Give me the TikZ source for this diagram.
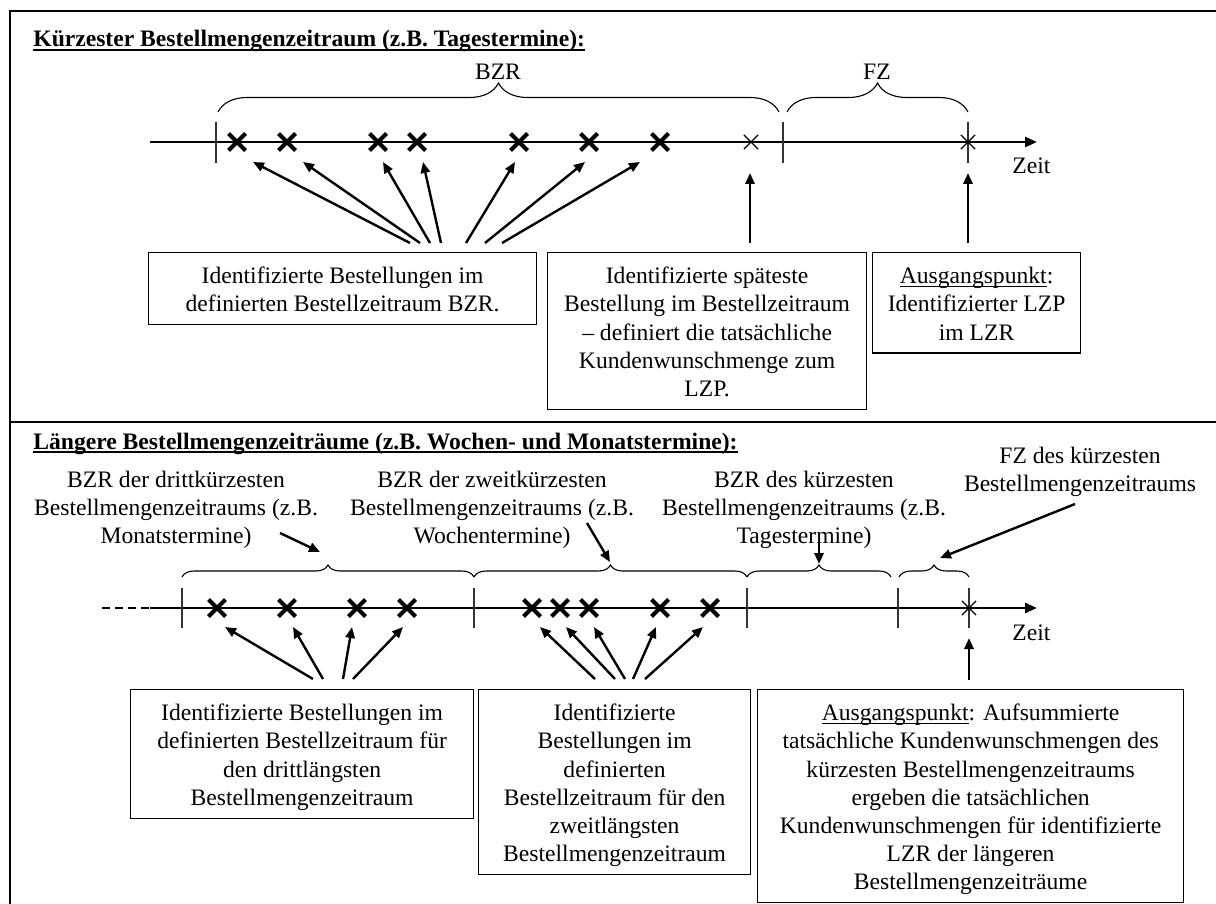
\documentclass[tikz,border=0pt]{standalone}
\usepackage{fontspec}
\setmainfont{Liberation Serif}
\usetikzlibrary{arrows.meta,shapes.misc,decorations.pathreplacing}

% struts fixing the first baseline and the last depth inside the boxes
\newcommand{\boxtop}{\rule{0pt}{13pt}}
\newcommand{\boxbot}{\rule[-4pt]{0pt}{4pt}}
\newcommand{\lbltop}{\rule{0pt}{11pt}}
\newsavebox{\ulsave}
\newcommand{\ulined}[2][0.5pt]{\sbox{\ulsave}{#2}\rlap{\rule[-1.8pt]{\wd\ulsave}{#1}}\usebox{\ulsave}}

\begin{document}
\begin{tikzpicture}[x=0.5pt,y=-0.5pt,
  every node/.style={font=\fontsize{11.8pt}{14.1pt}\selectfont, inner sep=0pt},
  frameline/.style={line width=0.8pt},
  timearrow/.style={line width=1.3pt,-{Triangle[length=6pt,width=5pt]}},
  tickmark/.style={line width=0.55pt, black!80},
  boldx/.style={cross out, draw, line width=2pt, minimum size=6.5pt},
  thinx/.style={cross out, draw, line width=0.6pt, minimum size=6.5pt},
  pointer/.style={line width=1.2pt,-{Triangle[length=5.5pt,width=4.6pt]}},
  infobox/.style={draw, line width=0.6pt, align=center, inner xsep=2pt, inner ysep=2.5pt, anchor=north west},
  caption/.style={align=center, anchor=north},
  bigbrace/.style={decorate, decoration={brace, amplitude=14.5pt}, line width=0.55pt},
  smallbrace/.style={decorate, decoration={brace, amplitude=6pt}, line width=0.55pt},
  heading/.style={anchor=base west, font=\fontsize{11.8pt}{14.1pt}\selectfont\bfseries},
]
\useasboundingbox (0,0) rectangle (1216,904);

% frame and separator
\draw[frameline] (10,904) -- (10,11) -- (1216,11);
\draw[frameline] (10,422) -- (1216,422);

% ---------------- shortest ordering period ----------------
\node[heading] (h1) at (33,47) {\ulined[0.9pt]{Kürzester Bestellmengenzeitraum (z.B. Tagestermine):}};

\coordinate (ax1s) at (150,142);
\coordinate (ax1e) at (1037,142);
\draw[timearrow] (ax1s) -- (ax1e);
\node[anchor=base west] (zeit1) at (1012,174) {Zeit};

\foreach \x in {216,783,968} \draw[tickmark] (\x,122) -- (\x,163);

\foreach \x [count=\i] in {237,287,378,417,519,589,660}
  \node[boldx] (ob\i) at (\x,142) {};
\node[thinx] (latest) at (751,142) {};
\node[thinx] (lzp) at (968,142) {};

\draw[bigbrace] (218,112) -- (779,112);
\node[anchor=base] (bzr) at (498,80) {BZR};
\draw[bigbrace] (787,112) -- (968,112);
\node[anchor=base] (fz) at (877,80) {FZ};

\node[infobox, minimum width=194pt] (box1) at (148,252)
  {\boxtop Identifizierte Bestellungen im\\definierten Bestellzeitraum BZR.\boxbot};
\node[infobox, minimum width=159.5pt] (box2) at (547,252)
  {\boxtop Identifizierte späteste\\Bestellung im Bestellzeitraum\\– definiert die tatsächliche\\Kundenwunschmenge zum\\LZP.\boxbot};
\node[infobox, minimum width=104pt] (box3) at (872,252)
  {\boxtop\ulined{Ausgangspunkt}:\\Identifizierter LZP\\im LZR\boxbot};

\foreach \sx/\tx [count=\i] in {410/253,420/303,430/383,441/423,466/515,485/585,502/640} {
  \coordinate (ts\i) at (\sx,243);
  \coordinate (tt\i) at (\tx,162);
  \draw[pointer] (ts\i) -- (tt\i);
}
\coordinate (ls) at (750,243);
\coordinate (lt) at (750,173);
\draw[pointer] (ls) -- (lt);
\coordinate (ps) at (968,243);
\coordinate (pt) at (968,173);
\draw[pointer] (ps) -- (pt);

% ---------------- longer ordering periods ----------------
\node[heading] (h2) at (33,449) {\ulined[0.9pt]{Längere Bestellmengenzeiträume (z.B. Wochen- und Monatstermine):}};

\node[caption] (lbl1) at (176,465) {\lbltop BZR der drittkürzesten\\Bestellmengenzeitraums (z.B.\\Monatstermine)};
\node[caption] (lbl2) at (492,465) {\lbltop BZR der zweitkürzesten\\Bestellmengenzeitraums (z.B.\\Wochentermine)};
\node[caption] (lbl3) at (804,465) {\lbltop BZR des kürzesten\\Bestellmengenzeitraums (z.B.\\Tagestermine)};
\node[caption] (lbl4) at (1080,441) {\lbltop FZ des kürzesten\\Bestellmengenzeitraums};

\coordinate (ax2d) at (102,608);
\coordinate (ax2s) at (150,608);
\coordinate (ax2e) at (1037,608);
\draw[line width=1.3pt, dash pattern=on 4pt off 2.5pt] (ax2d) -- (ax2s);
\draw[timearrow] (ax2s) -- (ax2e);
\node[anchor=base west] (zeit2) at (1012,640) {Zeit};

\foreach \x in {182,474,747,898,969} \draw[tickmark] (\x,588) -- (\x,628);

\foreach \x [count=\i] in {217,287,357,407,532,560,589,660,710}
  \node[boldx] (lb\i) at (\x,608) {};
\node[thinx] (lzp2) at (969,608) {};

\draw[smallbrace] (182,577) -- (474,577);
\draw[smallbrace] (474,577) -- (747,577);
\draw[smallbrace] (747,577) -- (891,577);
\draw[smallbrace] (899,577) -- (969,577);

\coordinate (m1s) at (280,533); \coordinate (m1t) at (320,552);
\coordinate (m2s) at (587,523); \coordinate (m2t) at (610,562);
\coordinate (m3s) at (819,543); \coordinate (m3t) at (819,564);
\coordinate (m4s) at (1075,504); \coordinate (m4t) at (940,558);
\foreach \i in {1,2,3,4} \draw[pointer] (m\i s) -- (m\i t);

\node[infobox, minimum width=171.5pt] (box4) at (130,689)
  {\boxtop Identifizierte Bestellungen im\\definierten Bestellzeitraum für\\den drittlängsten\\Bestellmengenzeitraum\boxbot};
\node[infobox, minimum width=136pt] (box5) at (478,689)
  {\boxtop Identifizierte\\Bestellungen im\\definierten\\Bestellzeitraum für den\\zweitlängsten\\Bestellmengenzeitraum\boxbot};
\node[infobox, minimum width=213pt] (box6) at (757,689)
  {\boxtop\ulined{Ausgangspunkt}: Aufsummierte\\tatsächliche Kundenwunschmengen des\\kürzesten Bestellmengenzeitraums\\ergeben die tatsächlichen\\Kundenwunschmengen für identifizierte\\LZR der längeren\\Bestellmengenzeiträume\boxbot};

\foreach \sx/\tx [count=\i] in {313/225,323/293,343/352,353/403,595/540,615/566,625/594,633/656,645/703} {
  \coordinate (bs\i) at (\sx,679);
  \coordinate (bt\i) at (\tx,627);
  \draw[pointer] (bs\i) -- (bt\i);
}
\coordinate (qs) at (969,680);
\coordinate (qt) at (969,638);
\draw[pointer] (qs) -- (qt);

\end{tikzpicture}
\end{document}
